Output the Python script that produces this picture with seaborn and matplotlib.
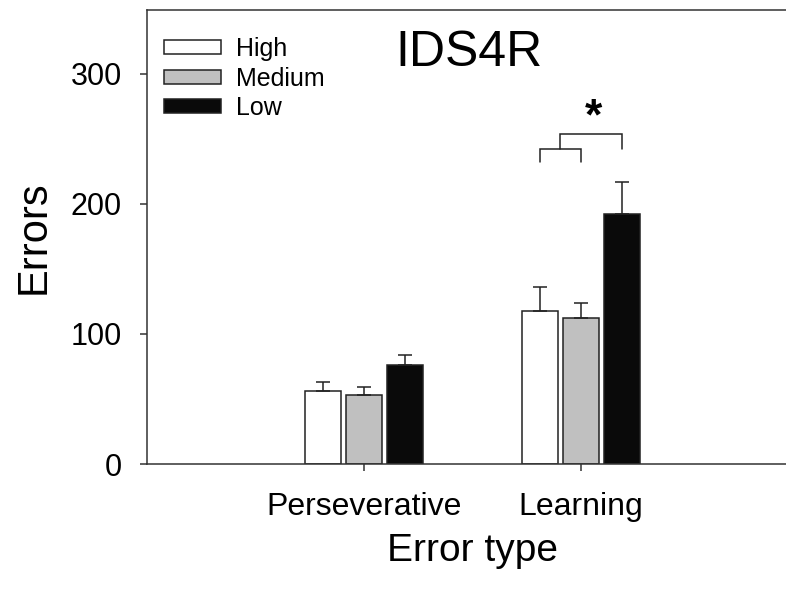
import matplotlib
matplotlib.use("Agg")
import matplotlib.pyplot as plt
import seaborn as sns
import pandas as pd
import numpy as np
from matplotlib.patches import Patch

# ---- data ----
error_types = ["Perseverative", "Learning"]
groups = ["High", "Medium", "Low"]
high_mean = [56, 118]
medium_mean = [53, 112]
low_mean = [76, 192]
high_se = [7, 18.5]
medium_se = [6.5, 12]
low_se = [7.5, 25]
yticks = [0, 100, 200, 300]
colors = {"High": "#ffffff", "Medium": "#c0c0c0", "Low": "#0a0a0a"}
# significance bracket levels (data units)
inner_bracket = [232, 242]
outer_bracket = [242, 254]
star_level = 257

sns.set_style("ticks")
plt.rcParams["font.family"] = ["Liberation Sans", "DejaVu Sans"]
plt.rcParams["text.color"] = "black"
plt.rcParams["axes.labelcolor"] = "black"
plt.rcParams["xtick.labelcolor"] = "black"
plt.rcParams["ytick.labelcolor"] = "black"

df = pd.DataFrame({
    "Error type": error_types * 3,
    "Group": [g for g in groups for _ in error_types],
    "Errors": high_mean + medium_mean + low_mean,
})

fig = plt.figure(figsize=(7.86, 5.89), dpi=100)
ax = fig.add_axes([147 / 786, 125 / 589, 639 / 786, 454 / 589])

ink = "#222222"
sns.barplot(data=df, x="Error type", y="Errors", hue="Group",
            order=error_types, hue_order=groups, palette=colors,
            saturation=1, width=0.57, gap=0.13, edgecolor=ink,
            linewidth=1.1, errorbar=None, legend=False, ax=ax)

bar_containers = list(ax.containers)
for cont, se in zip(bar_containers, [high_se, medium_se, low_se]):
    xs = [b.get_x() + b.get_width() / 2 for b in cont]
    ys = [b.get_height() for b in cont]
    ax.errorbar(xs, ys, yerr=[np.zeros(len(se)), se], fmt="none",
                ecolor=ink, elinewidth=1.1, capsize=5, capthick=1.1, zorder=3)

# brackets over Learning group
bars = [c[1] for c in bar_containers]
xc = [b.get_x() + b.get_width() / 2 for b in bars]
x_h, x_m, x_l = xc
ax.plot([x_h, x_h, x_m, x_m],
        [inner_bracket[0], inner_bracket[1], inner_bracket[1], inner_bracket[0]],
        color=ink, lw=1.1, solid_joinstyle="miter")
mid = (x_h + x_m) / 2
ax.plot([mid, mid, x_l, x_l],
        [outer_bracket[0], outer_bracket[1], outer_bracket[1], outer_bracket[0]],
        color=ink, lw=1.1, solid_joinstyle="miter")
ax.text((mid + x_l) / 2 + 0.01, star_level, "*", ha="center", va="baseline",
        fontsize=32, fontweight="bold", color="black")

ax.set_xlim(-1.0, 1.945)
ax.set_ylim(0, 349.2)
ax.set_yticks(yticks)
ax.spines["right"].set_visible(False)
for s in ["left", "bottom", "top"]:
    ax.spines[s].set_color("#333333")
    ax.spines[s].set_linewidth(1.1)
ax.tick_params(axis="y", direction="out", length=5, width=1.1, color="#333333",
               labelsize=22, pad=13)
ax.tick_params(axis="x", direction="out", length=5, width=1.1, color="#333333",
               labelsize=23, pad=15)

ax.set_ylabel("Errors", fontsize=30)
ax.yaxis.set_label_coords(-0.1455, 0.5)
ax.set_xlabel("Error type", fontsize=28)
ax.xaxis.set_label_coords(0.509, -0.152)

ax.set_title("")
fig.text(469 / 786, 1 - 66 / 589, "IDS4R", ha="center", va="baseline",
         fontsize=36, color="black")

handles = [Patch(facecolor=colors[g], edgecolor=ink, linewidth=1.1, label=g)
           for g in groups]
leg = ax.legend(handles=handles, loc="upper left",
                bbox_to_anchor=(0.0266, 0.94), frameon=False, fontsize=18,
                handlelength=2.3, handleheight=0.5, handletextpad=0.6,
                labelspacing=0.22, borderpad=0, borderaxespad=0)

fig.savefig("out.png", dpi=100)
